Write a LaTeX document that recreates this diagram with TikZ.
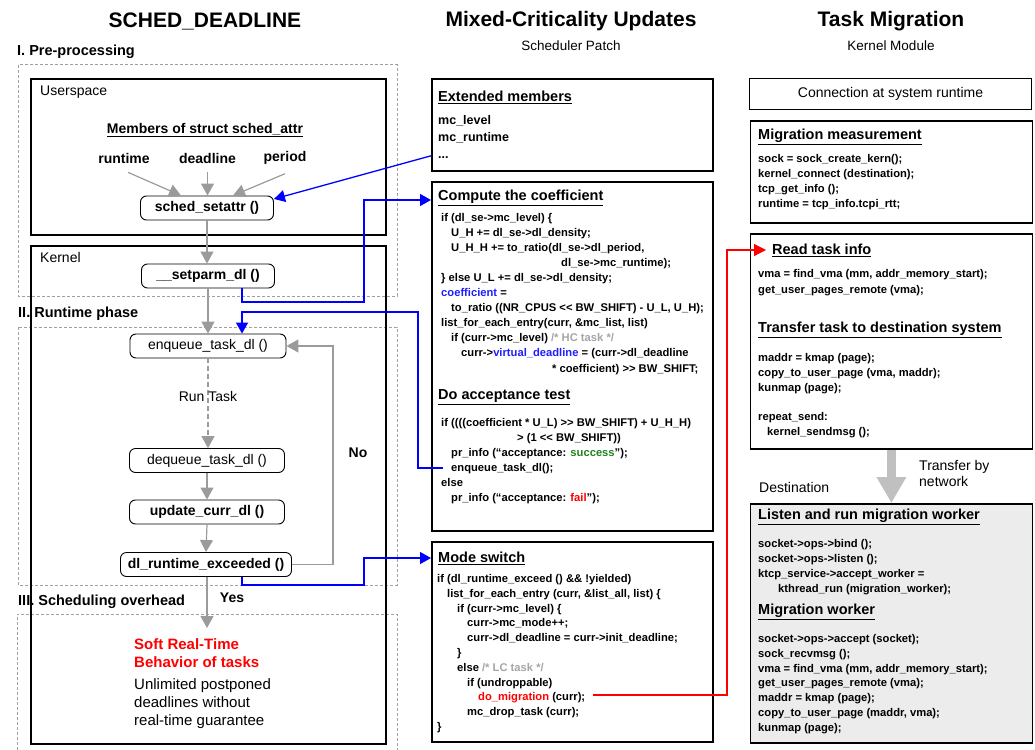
\documentclass[tikz,border=0pt]{standalone}
\usepackage{fontspec}
\setmainfont{Liberation Sans}
\usetikzlibrary{arrows.meta}
\definecolor{linkblue}{RGB}{0,0,255}
\definecolor{codeblue}{RGB}{30,30,255}
\definecolor{okgreen}{RGB}{30,130,30}
\definecolor{failred}{RGB}{255,0,0}
\definecolor{dotgray}{RGB}{160,160,160}
\definecolor{flowgray}{RGB}{155,155,155}
\definecolor{notegray}{RGB}{165,165,165}
\definecolor{netgray}{RGB}{192,192,192}
\definecolor{destfill}{RGB}{236,236,236}
\newcommand{\fsz}[2]{\fontsize{#1}{#2}\selectfont}
\newcommand{\shl}{<\kern0pt<}
\newcommand{\shr}{>\kern0pt>}

\begin{document}
\begin{tikzpicture}[x=1pt, y=-1pt,
    frame/.style={draw, line width=1.8pt, anchor=north west, inner sep=0pt},
    phase/.style={draw=dotgray, line width=1pt, dash pattern=on 3pt off 2pt},
    func/.style={draw, rounded corners=6pt, line width=0.9pt, inner sep=0pt, minimum height=24pt, font=\fsz{14}{16}\bfseries},
    flow/.style={draw=flowgray, line width=1.2pt, -{Triangle[length=12pt,width=13pt]}},
    link/.style={draw=linkblue, line width=1.3pt, -{Triangle[length=11pt,width=12pt]}},
    title/.style={inner sep=0pt, font=\fsz{21}{24}\bfseries},
    sub/.style={inner sep=0pt, font=\fsz{13.5}{16}},
    phasetxt/.style={anchor=west, inner sep=0pt, font=\fsz{14.5}{16}\bfseries},
    txt/.style={inner sep=0pt, font=\fsz{14}{16}},
    txtb/.style={inner sep=0pt, font=\fsz{14}{16}\bfseries},
    head/.style={anchor=west, inner sep=0pt, font=\fsz{14.5}{16}\bfseries},
    code/.style={anchor=base west, inner sep=0pt, align=left, font=\fsz{11.2}{15}\bfseries}]

  \useasboundingbox (0,0) rectangle (1035,749);

  % titulos
  \node[title] (t1) at (205,21) {SCHED\_DEADLINE};
  \node[title] (t2) at (571,21) {Mixed-Criticality Updates};
  \node[sub] (s2) at (571,46) {Scheduler Patch};
  \node[title] (t3) at (891,21) {Task Migration};
  \node[sub] (s3) at (891,46) {Kernel Module};

  % fases
  \node[phasetxt] (p1) at (17,52) {I. Pre-processing};
  \node[phasetxt] (p2) at (18,314) {II. Runtime phase};
  \node[phasetxt] (p3) at (18,602) {III. Scheduling overhead};
  \draw[phase] (18,65) rectangle (397,296);
  \draw[phase] (18,327) rectangle (397,585);
  \draw[phase] (17,760) -- (17,614) -- (397,614) -- (397,760);

  % SCHED_DEADLINE
  \node[frame, minimum width=355pt, minimum height=156pt] (user) at (30,78) {};
  \node[frame, minimum width=355pt, minimum height=498pt] (kern) at (30,245) {};
  \node[txt, anchor=west] (usr) at (40,92) {Userspace};
  \node[txt, anchor=west] (krn) at (40,257) {Kernel};
  \node[txtb] (memb) at (205,130) {\underline{Members of struct sched\_attr}};
  \node[txtb] (rt) at (124,158) {runtime};
  \node[txtb] (dl) at (207.5,158) {deadline};
  \node[txtb] (per) at (285,158) {period};

  \node[func, minimum width=133pt] (setattr) at (207,208) {sched\_setattr ()};
  \node[func, minimum width=133pt] (setparm) at (208,276) {\_\_setparm\_dl ()};
  \node[func, minimum width=156pt, font=\fsz{14}{16}] (enqueue) at (208,346) {enqueue\_task\_dl ()};
  \node[func, minimum width=155pt, font=\fsz{14}{16}] (dequeue) at (207,460.5) {dequeue\_task\_dl ()};
  \node[func, minimum width=155pt] (update) at (207,512) {update\_curr\_dl ()};
  \node[func, minimum width=171pt] (exceed) at (206,564.5) {dl\_runtime\_exceeded ()};

  \draw[flow] ([xshift=4pt,yshift=-9pt]rt.south) -- ([xshift=-26pt]setattr.north);
  \draw[flow] ([yshift=-9pt]dl.south) -- (dl.south |- setattr.north);
  \draw[flow] ([yshift=-9pt]per.south) -- ([xshift=26pt]setattr.north);
  \draw[flow] (setattr.south) -- (setattr.south |- setparm.north);
  \draw[flow] (setparm.south) -- (setparm.south |- enqueue.north);
  \draw[flow, dash pattern=on 5pt off 3pt] (enqueue.south) -- (enqueue.south |- dequeue.north)
    node[txt, pos=0.43] (runtask) {Run Task};
  \draw[flow] (dequeue.south) -- (update.north);
  \draw[flow] (update.south) -- (exceed.north);
  \draw[flow] (exceed.east) -- ++(41,0) |- (enqueue.east);
  \node[txtb] (no) at (358,453) {No};
  \coordinate (yesend) at (207,628);
  \draw[flow] ([xshift=1pt]exceed.south) -- (yesend);
  \node[txtb] (yes) at (232,598) {Yes};

  \node[txtb, text=failred, align=left, anchor=base west, font=\fsz{15}{18}\bfseries] (soft) at (134,667) {Soft Real-Time\\Behavior of tasks};
  \node[txt, align=left, anchor=base west, font=\fsz{15}{18}] (unl) at (134,725) {Unlimited postponed\\deadlines without\\real-time guarantee};

  % Mixed-Criticality
  \node[frame, minimum width=281pt, minimum height=92pt] (extbox) at (431,78) {};
  \node[head] (exthead) at (438,97) {\underline{Extended members}};
  \node[code, font=\fsz{12.5}{17}\bfseries] (extcode) at (438,158.5) {mc\_level\\mc\_runtime\\...};

  \node[frame, minimum width=281pt, minimum height=349pt] (coefbox) at (431,181) {};
  \node[head] (coefhead) at (438,198) {\underline{Compute the coefficient}};
  \node[code, font=\fsz{11.2}{15.1}\bfseries] (coefcode) at (441,372) {if (dl\_se->mc\_level) \{\\
    \hspace*{10pt}U\_H += dl\_se->dl\_density;\\
    \hspace*{10pt}U\_H\_H += to\_ratio(dl\_se->dl\_period,\\
    \hspace*{120pt}dl\_se->mc\_runtime);\\
    \} else U\_L += dl\_se->dl\_density;\\
    \textcolor{codeblue}{coefficient} =\\
    \hspace*{10pt}to\_ratio ((NR\_CPUS \shl{} BW\_SHIFT) - U\_L, U\_H);\\
    list\_for\_each\_entry(curr, \&mc\_list, list)\\
    \hspace*{10pt}if (curr->mc\_level) \textcolor{notegray}{/* HC task */}\\
    \hspace*{20pt}curr->\textcolor{codeblue}{virtual\_deadline} = (curr->dl\_deadline\\
    \hspace*{111pt}* coefficient) \shr{} BW\_SHIFT;};
  \node[head] (acchead) at (438,397) {\underline{Do acceptance test}};
  \node[code] (acccode) at (441,501.5) {if ((((coefficient * U\_L) \shr{} BW\_SHIFT) + U\_H\_H)\\
    \hspace*{76pt}> (1 \shl{} BW\_SHIFT))\\
    \hspace*{10pt}pr\_info (“acceptance: \textcolor{okgreen}{success}”);\\
    \hspace*{10pt}enqueue\_task\_dl();\\
    else\\
    \hspace*{10pt}pr\_info (“acceptance: \textcolor{failred}{fail}”);};
  \coordinate (enqsrc) at (443,468);

  \node[frame, minimum width=281pt, minimum height=200pt] (modebox) at (431,541) {};
  \node[head] (modehead) at (438,558) {\underline{Mode switch}};
  \node[code, font=\fsz{11.2}{14.8}\bfseries] (modecode) at (437,730.5) {if (dl\_runtime\_exceed () \&\& !yielded)\\
    \hspace*{10pt}list\_for\_each\_entry (curr, \&list\_all, list) \{\\
    \hspace*{20pt}if (curr->mc\_level) \{\\
    \hspace*{30pt}curr->mc\_mode++;\\
    \hspace*{30pt}curr->dl\_deadline = curr->init\_deadline;\\
    \hspace*{20pt}\}\\
    \hspace*{20pt}else \textcolor{notegray}{/* LC task */}\\
    \hspace*{30pt}if (undroppable)\\
    \hspace*{41pt}\textcolor{failred}{do\_migration} (curr);\\
    \hspace*{30pt}mc\_drop\_task (curr);\\
    \}};
  \coordinate (migsrc) at (593,695);

  % Task Migration
  \node[frame, anchor=center, minimum width=282pt, minimum height=31pt, font=\fsz{14}{16}] (conbox) at (890.5,94) {Connection at system runtime};
  \node[frame, minimum width=282pt, minimum height=102pt] (measbox) at (749.5,120) {};
  \node[head] (meashead) at (758,137) {\underline{Migration measurement}};
  \node[code] (meascode) at (758,207) {sock = sock\_create\_kern();\\
    kernel\_connect (destination);\\
    tcp\_get\_info ();\\
    runtime = tcp\_info.tcpi\_rtt;};

  \node[frame, minimum width=282pt, minimum height=215pt] (readbox) at (749.5,233) {};
  \node[head] (readhead) at (772,250) {\underline{Read task info}};
  \node[code, font=\fsz{11.2}{16}\bfseries] (readcode) at (758,293.5) {vma = find\_vma (mm, addr\_memory\_start);\\
    get\_user\_pages\_remote (vma);};
  \node[head] (sendhead) at (758,330) {\underline{Transfer task to destination system}};
  \node[code] (sendcode) at (758,435.5) {maddr = kmap (page);\\
    copy\_to\_user\_page (vma, maddr);\\
    kunmap (page);\\[14.5pt]
    repeat\_send:\\
    \hspace*{9pt}kernel\_sendmsg ();};

  \node[txt, anchor=west, align=left] (netlbl) at (919,473.5) {Transfer by\\network};
  \node[txt, anchor=west] (dst) at (759,487) {Destination};

  \node[frame, fill=destfill, minimum width=282pt, minimum height=239pt] (destbox) at (749.5,503) {};
  \node[head] (listhead) at (758,517) {\underline{Listen and run migration worker}};
  \node[code] (listcode) at (758,592) {socket->ops->bind ();\\
    socket->ops->listen ();\\
    ktcp\_service->accept\_worker =\\
    \hspace*{20pt}kthread\_run (migration\_worker);};
  \node[head] (workhead) at (758,612) {\underline{Migration worker}};
  \node[code, font=\fsz{11.2}{14.8}\bfseries] (workcode) at (758,731.3) {socket->ops->accept (socket);\\
    sock\_recvmsg ();\\
    vma = find\_vma (mm, addr\_memory\_start);\\
    get\_user\_pages\_remote (vma);\\
    maddr = kmap (page);\\
    copy\_to\_user\_page (maddr, vma);\\
    kunmap (page);};

  \draw[netgray, line width=9pt, -{Triangle[length=26pt,width=28pt]}] (readbox.south) -- (destbox.north);

  % ligacoes
  \draw[link] ([yshift=16pt]extbox.south west) -- ([yshift=9pt]setattr.east);
  \draw[link] ([xshift=34pt]setparm.south) |- (364,302) |- ([yshift=-19pt]coefbox.north west);
  \draw[link] (enqsrc) -| (418,312) -| ([xshift=34pt]enqueue.north);
  \draw[link] ([xshift=36pt]exceed.south) |- (364,585) |- ([yshift=-17pt]modebox.north west);
  \draw[draw=failred, line width=1.2pt, -{Triangle[length=12pt,width=12pt]}] (migsrc) -- (727,695) |- ([xshift=-6pt]readhead.west);
\end{tikzpicture}
\end{document}
